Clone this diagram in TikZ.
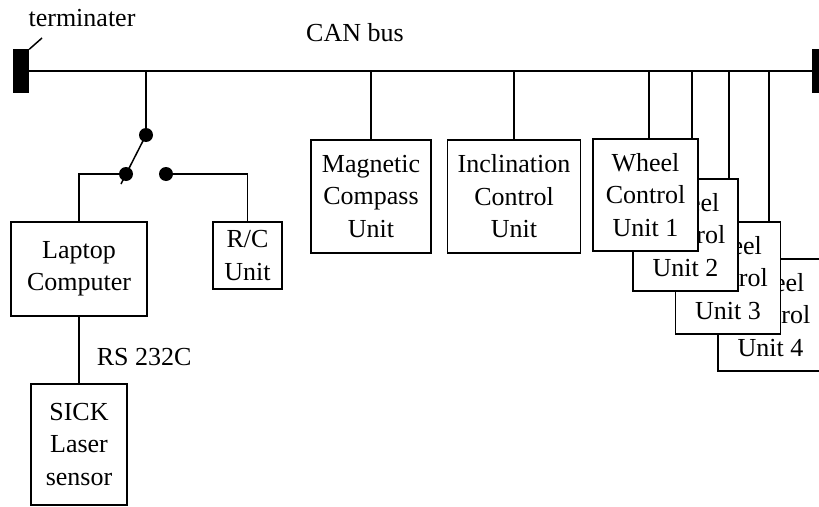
\documentclass[tikz,border=0pt]{standalone}
\usepackage{fontspec}
\setmainfont{Liberation Serif}
\begin{document}
\begin{tikzpicture}[x=1pt,y=-1pt,
  line width=1.5pt,
  box/.style={draw,fill=white,align=center,inner sep=0pt,
    font=\fontsize{26}{32.5}\selectfont},
  lbl/.style={font=\fontsize{26}{32.5}\selectfont,inner sep=0pt},
  dot/.style={circle,fill=black,inner sep=0pt,minimum size=14pt}]
\useasboundingbox (0,0) rectangle (819,506);
\clip (0,0) rectangle (819,506);
% bus
\node[draw,fill=black,inner sep=0pt,minimum width=15pt,minimum height=42pt] (termL) at (21,71) {};
\node[draw,fill=black,inner sep=0pt,minimum width=15pt,minimum height=42pt] (termR) at (820,71) {};
\draw (termL.east) -- (termR.west);
\node[lbl,anchor=base] (tlab) at (82,26) {terminater};
\coordinate (tl) at (42,38);
\draw (termL.north east) -- (tl);
\node[lbl] (can) at (355,33) {CAN bus};
% switch
\coordinate (tapS) at (146,70);
\node[dot] (d1) at (146,135) {};
\node[dot] (d2) at (126,174) {};
\node[dot] (d3) at (166,174) {};
\coordinate (armEnd) at (121,184);
\draw (tapS) -- (d1.center);
\draw (d1.center) -- (armEnd);
% boxes
\node[box,minimum width=136pt,minimum height=94pt] (laptop) at (79,269) {Laptop\\Computer};
\node[box,minimum width=69pt,minimum height=67pt] (rc) at (247.5,255.5) {R/C\\Unit};
\node[box,minimum width=96pt,minimum height=121pt] (sick) at (79,444.5) {SICK\\Laser\\sensor};
\draw (d2.center) -| (laptop.north);
\draw (d3.center) -| (rc.north);
\draw (laptop.south) -- (sick.north);
\node[lbl,anchor=west] (rs) at (96,357) {RS 232C};
\node[box,minimum width=120pt,minimum height=113pt] (mag) at (371,196.5) {Magnetic\\Compass\\Unit};
\node[box,minimum width=133pt,minimum height=113pt] (inc) at (514,196.5) {Inclination\\Control\\Unit};
\draw (mag.north |- tapS) -- (mag.north);
\draw (inc.north |- tapS) -- (inc.north);
% wheel taps
\coordinate (t1) at (649,70);
\coordinate (t2) at (692,70);
\coordinate (t3) at (729,70);
\coordinate (t4) at (769,70);
\coordinate (b1) at (649,139);
\coordinate (b2) at (692,179);
\coordinate (b3) at (729,222);
\coordinate (b4) at (769,259);
\draw (t1) -- (b1);
\draw (t2) -- (b2);
\draw (t3) -- (b3);
\draw (t4) -- (b4);
\node[box,minimum width=105pt,minimum height=112pt] (w4) at (770.5,315) {Wheel\\Control\\Unit 4};
\node[box,minimum width=105pt,minimum height=112pt] (w3) at (728,278) {Wheel\\Control\\Unit 3};
\node[box,minimum width=105pt,minimum height=112pt] (w2) at (685.5,235) {Wheel\\Control\\Unit 2};
\node[box,minimum width=105pt,minimum height=112pt] (w1) at (645.5,195) {Wheel\\Control\\Unit 1};
\end{tikzpicture}
\end{document}
